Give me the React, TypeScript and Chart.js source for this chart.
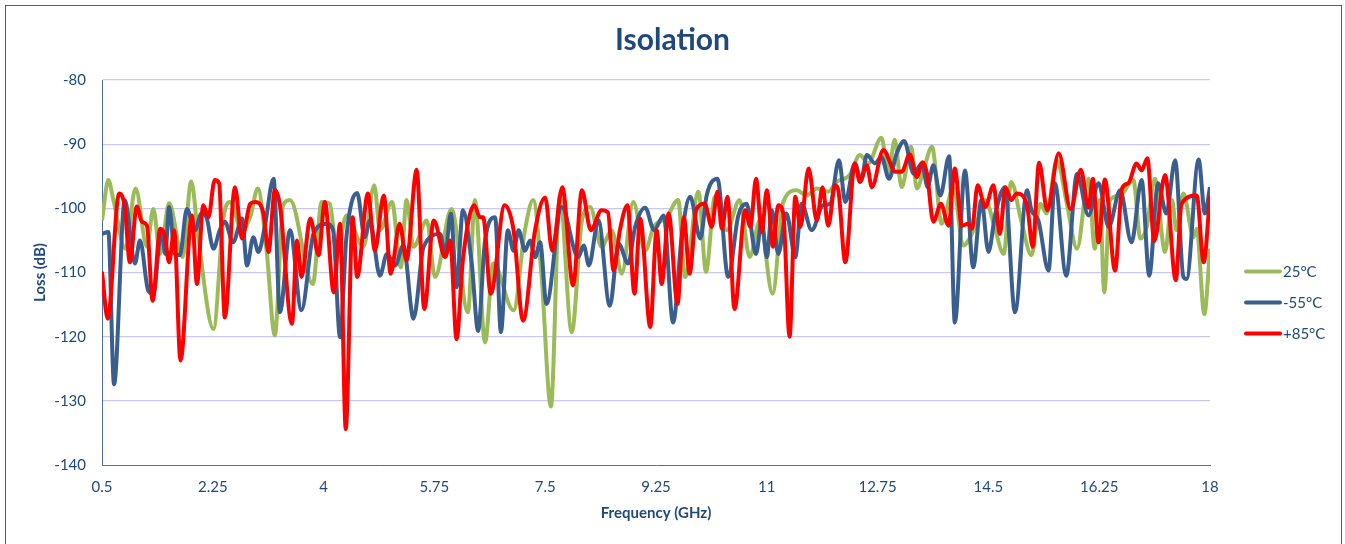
import React, { useEffect, useRef } from "react";
import { Chart, registerables } from "chart.js";

Chart.register(...registerables);

// ---- Data ----
const freq25 = [
  0.5, 0.6, 0.68, 0.87, 1.03, 1.21, 1.31, 1.42, 1.56, 1.77, 1.91, 2.02, 2.26, 2.42, 2.52, 2.71, 2.84, 2.96, 3.1, 3.23,
  3.36, 3.47, 3.83, 3.97, 4.1, 4.21, 4.36, 4.63, 4.8, 4.89, 5.08, 5.22, 5.31, 5.42, 5.63, 5.76, 6.02, 6.28, 6.39, 6.55,
  6.68, 7.0, 7.18, 7.31, 7.44, 7.59, 7.73, 7.92, 8.08, 8.21, 8.39, 8.55, 8.71, 8.89, 9.08, 9.21, 9.42, 9.6, 9.71, 9.92,
  10.04, 10.18, 10.37, 10.57, 10.73, 10.89, 11.09, 11.26, 11.47, 11.63, 11.79, 11.97, 12.1, 12.31, 12.47, 12.6, 12.81,
  12.92, 13.02, 13.13, 13.28, 13.37, 13.49, 13.61, 13.76, 13.95, 14.1, 14.29, 14.45, 14.61, 14.74, 14.86, 15.02, 15.18,
  15.32, 15.42, 15.58, 15.74, 15.9, 16.08, 16.18, 16.26, 16.33, 16.42, 16.58, 16.79, 16.9, 17.0, 17.13, 17.29, 17.4,
  17.47, 17.58, 17.74, 17.79, 17.91, 18.0,
];
const loss25 = [
  -101.9, -95.6, -98.7, -106.3, -96.9, -106.0, -100.1, -107.1, -99.2, -107.6, -95.8, -104.5, -118.8, -101.4, -99.0,
  -103.4, -101.4, -96.9, -106.6, -119.8, -99.5, -98.7, -111.8, -99.0, -99.3, -107.1, -101.1, -106.0, -96.4, -103.4,
  -99.0, -109.2, -98.7, -106.0, -101.9, -110.7, -100.1, -116.2, -98.7, -120.9, -108.6, -115.9, -103.4, -98.7, -110.2,
  -130.9, -98.2, -119.3, -101.9, -99.8, -106.0, -103.4, -110.2, -99.0, -106.6, -103.0, -101.4, -98.7, -110.7, -97.4,
  -109.9, -98.2, -103.4, -98.7, -107.6, -101.9, -113.3, -99.0, -97.2, -98.0, -96.9, -97.4, -95.9, -94.8, -91.7, -93.0,
  -89.0, -94.6, -89.3, -96.7, -90.4, -96.9, -93.5, -90.4, -102.4, -96.7, -105.8, -102.9, -98.7, -103.4, -107.1, -95.9,
  -102.0, -107.3, -99.3, -100.8, -92.5, -99.3, -106.3, -95.4, -106.3, -98.7, -113.1, -98.7, -98.0, -95.6, -104.7,
  -102.9, -95.4, -106.8, -98.7, -103.4, -97.7, -104.5, -103.2, -116.5, -106.3,
];

const freqM55 = [
  0.5, 0.6, 0.69, 0.86, 1.02, 1.1, 1.23, 1.31, 1.44, 1.5, 1.56, 1.65, 1.73, 1.84, 1.97, 2.07, 2.15, 2.26, 2.36, 2.44,
  2.57, 2.71, 2.79, 2.89, 2.97, 3.07, 3.21, 3.31, 3.47, 3.65, 3.84, 4.05, 4.15, 4.26, 4.36, 4.53, 4.65, 4.73, 4.89, 5.0,
  5.13, 5.26, 5.42, 5.58, 5.84, 5.92, 6.01, 6.1, 6.2, 6.34, 6.44, 6.55, 6.71, 6.8, 6.91, 7.0, 7.08, 7.18, 7.26, 7.34,
  7.42, 7.52, 7.76, 8.02, 8.11, 8.19, 8.34, 8.52, 8.66, 8.81, 8.92, 9.08, 9.22, 9.37, 9.52, 9.66, 9.79, 9.95, 10.05,
  10.22, 10.39, 10.55, 10.68, 10.83, 10.92, 11.0, 11.08, 11.18, 11.31, 11.45, 11.55, 11.71, 11.89, 12.0, 12.14, 12.24,
  12.39, 12.49, 12.58, 12.71, 12.81, 12.93, 13.05, 13.17, 13.32, 13.45, 13.54, 13.63, 13.74, 13.88, 13.97, 14.13, 14.26,
  14.39, 14.5, 14.61, 14.76, 14.92, 15.11, 15.18, 15.29, 15.45, 15.55, 15.73, 15.9, 16.08, 16.24, 16.4, 16.58, 16.76,
  16.92, 17.04, 17.18, 17.31, 17.45, 17.58, 17.63, 17.82, 17.92, 18.0,
];
const lossM55 = [
  -104.0, -103.7, -127.4, -98.7, -108.6, -105.0, -112.8, -113.3, -103.4, -107.1, -99.8, -107.1, -107.3, -100.1, -103.4,
  -100.8, -101.4, -106.3, -103.4, -102.1, -105.3, -101.6, -108.9, -104.5, -106.8, -102.9, -95.4, -116.2, -103.4, -115.9,
  -104.0, -102.4, -103.4, -120.1, -104.5, -97.6, -104.5, -101.9, -110.5, -107.1, -108.9, -105.8, -117.2, -106.0, -104.0,
  -107.1, -100.8, -112.3, -100.3, -108.6, -119.1, -105.0, -101.4, -119.3, -103.4, -106.6, -103.4, -106.6, -105.0,
  -107.6, -105.3, -114.9, -99.8, -107.6, -105.8, -108.9, -101.9, -115.2, -105.5, -108.6, -102.9, -99.9, -103.4, -101.1,
  -117.8, -104.0, -98.2, -104.7, -98.0, -95.4, -110.7, -101.1, -99.3, -107.1, -101.9, -107.6, -100.3, -107.1, -100.8,
  -107.6, -99.3, -103.4, -99.5, -99.3, -92.5, -99.0, -93.0, -95.6, -91.7, -93.0, -92.0, -95.4, -91.5, -89.5, -94.6,
  -93.0, -96.7, -93.3, -98.0, -91.9, -117.8, -94.1, -109.2, -98.7, -106.8, -100.8, -96.7, -116.2, -97.2, -100.3, -101.9,
  -109.7, -96.1, -110.5, -94.6, -101.1, -96.1, -102.9, -97.2, -105.3, -95.6, -110.5, -96.1, -100.8, -92.5, -110.7,
  -111.0, -92.4, -100.8, -96.7,
];

const freqP85 = [
  0.5, 0.59, 0.77, 0.86, 0.94, 1.05, 1.13, 1.21, 1.3, 1.42, 1.49, 1.56, 1.64, 1.74, 1.92, 2.0, 2.1, 2.18, 2.28, 2.35,
  2.44, 2.6, 2.71, 2.84, 2.92, 3.05, 3.13, 3.23, 3.31, 3.5, 3.58, 3.65, 3.79, 3.92, 4.02, 4.16, 4.26, 4.35, 4.46, 4.53,
  4.7, 4.81, 4.95, 5.06, 5.2, 5.31, 5.47, 5.59, 5.74, 5.92, 6.0, 6.1, 6.2, 6.38, 6.47, 6.52, 6.64, 6.86, 7.0, 7.15,
  7.34, 7.5, 7.61, 7.77, 7.94, 8.08, 8.22, 8.39, 8.49, 8.58, 8.68, 8.8, 8.91, 9.0, 9.16, 9.26, 9.34, 9.45, 9.59, 9.69,
  9.78, 9.89, 10.02, 10.13, 10.22, 10.29, 10.38, 10.49, 10.66, 10.74, 10.83, 10.92, 11.0, 11.1, 11.18, 11.26, 11.36,
  11.45, 11.53, 11.66, 11.79, 11.88, 11.97, 12.08, 12.13, 12.24, 12.39, 12.47, 12.58, 12.66, 12.84, 13.03, 13.13, 13.26,
  13.37, 13.46, 13.53, 13.63, 13.75, 13.87, 13.97, 14.08, 14.18, 14.24, 14.33, 14.45, 14.58, 14.68, 14.77, 14.86,
  14.95, 15.11, 15.2, 15.3, 15.43, 15.61, 15.8, 15.96, 16.08, 16.15, 16.24, 16.34, 16.5, 16.61, 16.71, 16.84, 16.92,
  17.01, 17.12, 17.29, 17.46, 17.55, 17.79, 17.9, 18.0,
];
const lossP85 = [
  -109.9, -117.2, -97.7, -99.8, -108.4, -99.7, -102.1, -102.7, -114.4, -103.2, -104.2, -108.4, -103.4, -123.7, -101.1,
  -111.8, -99.5, -101.4, -95.6, -96.1, -117.0, -96.7, -104.7, -99.3, -99.0, -100.8, -106.8, -97.2, -99.5, -118.0,
  -105.0, -110.7, -101.6, -107.3, -99.0, -113.1, -102.4, -134.4, -101.4, -110.7, -97.7, -106.6, -98.0, -110.2, -102.4,
  -108.1, -94.0, -115.7, -101.9, -107.6, -105.0, -120.4, -108.0, -99.5, -101.4, -101.4, -113.3, -99.5, -103.4, -117.5,
  -103.4, -98.3, -106.6, -96.7, -112.0, -97.2, -103.4, -100.3, -100.6, -109.7, -103.4, -99.5, -113.3, -101.6, -118.5,
  -103.4, -111.8, -100.8, -114.9, -101.4, -110.2, -100.1, -99.3, -102.9, -97.4, -103.2, -98.2, -115.7, -100.3, -102.9,
  -95.4, -103.7, -97.2, -106.0, -99.5, -100.8, -120.0, -98.2, -102.9, -93.8, -101.9, -96.7, -102.7, -96.4, -97.2,
  -108.4, -93.0, -95.9, -93.3, -96.7, -90.9, -94.3, -94.3, -91.6, -95.1, -92.8, -94.6, -102.1, -99.3, -102.7, -93.8,
  -102.7, -102.4, -103.2, -96.4, -99.8, -96.4, -104.0, -96.7, -98.7, -97.7, -99.5, -106.0, -92.9, -100.3, -91.4,
  -100.1, -94.0, -99.9, -95.4, -105.3, -95.5, -109.7, -96.9, -96.1, -93.0, -94.1, -92.2, -105.1, -94.8, -111.2, -99.3,
  -98.0, -108.4, -98.0,
];

const seriesNames = ["25°C", "-55°C", "+85°C"];
const seriesColors = ["#9bbb59", "#3a5f8f", "#ff0000"];
const xTickValues = [0.5, 2.25, 4, 5.75, 7.5, 9.25, 11, 12.75, 14.5, 16.25, 18];
const yMin = -140;
const yMax = -80;
const yStep = 10;

const FONT = "Lato, 'Open Sans', 'Noto Sans', sans-serif";
const TEXT = "#1f497d";
const AXIS = "#4f6f9f";
const GRID = "#c8c8f2";

const toPoints = (xs: number[], ys: number[]) => xs.map((x, i) => ({ x, y: ys[i] }));

const sideLegend = {
  id: "sideLegend",
  afterDraw(chart: any) {
    const { ctx, chartArea } = chart;
    const cy = (chartArea.top + chartArea.bottom) / 2 + 30;
    ctx.save();
    ctx.font = `15px ${FONT}`;
    ctx.textBaseline = "middle";
    ctx.textAlign = "left";
    chart.data.datasets.forEach((ds: any, i: number) => {
      const y = cy + (i - 1) * 31;
      const x0 = chartArea.right + 35;
      ctx.strokeStyle = ds.borderColor;
      ctx.lineWidth = 4;
      ctx.lineCap = "round";
      ctx.beginPath();
      ctx.moveTo(x0 + 1, y);
      ctx.lineTo(x0 + 35, y);
      ctx.stroke();
      ctx.fillStyle = TEXT;
      ctx.fillText(ds.label, x0 + 38, y + 1);
    });
    ctx.restore();
  },
};

export default function App() {
  const ref = useRef<HTMLCanvasElement | null>(null);

  useEffect(() => {
    if (!ref.current) return;
    const chart = new Chart(ref.current, {
      type: "line",
      data: {
        datasets: [
          { label: seriesNames[0], data: toPoints(freq25, loss25), borderColor: seriesColors[0], order: 3 },
          { label: seriesNames[1], data: toPoints(freqM55, lossM55), borderColor: seriesColors[1], order: 2 },
          { label: seriesNames[2], data: toPoints(freqP85, lossP85), borderColor: seriesColors[2], order: 1 },
        ],
      },
      options: {
        responsive: false,
        animation: false,
        layout: { padding: 0 },
        elements: {
          point: { radius: 0 },
          line: { borderWidth: 4, cubicInterpolationMode: "monotone", fill: false },
        },
        plugins: {
          legend: { display: false },
          tooltip: { enabled: false },
          title: {
            display: true,
            text: "Isolation",
            color: TEXT,
            font: { family: FONT, size: 30, weight: "bold" },
            padding: { top: 22, bottom: 22 },
          },
        },
        scales: {
          x: {
            type: "linear",
            min: 0.5,
            max: 18,
            afterBuildTicks: (s: any) => {
              s.ticks = xTickValues.map((v) => ({ value: v }));
            },
            afterFit: (s: any) => {
              s.height = 79;
            },
            ticks: {
              autoSkip: false,
              maxRotation: 0,
              color: TEXT,
              font: { family: FONT, size: 15 },
              padding: 13,
              callback: (v: any) => String(v),
            },
            grid: { display: false, drawTicks: false },
            border: { display: true, color: AXIS, width: 1 },
            title: {
              display: true,
              text: "Frequency (GHz)",
              color: TEXT,
              font: { family: FONT, size: 15, weight: "bold" },
              padding: { top: 0, bottom: 22 },
            },
          },
          y: {
            type: "linear",
            position: "left",
            min: yMin,
            max: yMax,
            afterFit: (s: any) => {
              s.width = 102;
            },
            ticks: {
              stepSize: yStep,
              color: TEXT,
              font: { family: FONT, size: 15 },
              padding: 16,
            },
            grid: {
              drawTicks: false,
              lineWidth: 1.2,
              color: (c: any) => (c.tick && c.tick.value === yMin ? "rgba(0,0,0,0)" : GRID),
            },
            border: { display: true, color: AXIS, width: 1 },
            title: {
              display: true,
              text: "Loss (dB)",
              color: TEXT,
              font: { family: FONT, size: 15, weight: "bold" },
              padding: { top: 31, bottom: 0 },
            },
          },
          legendSpace: {
            type: "linear",
            position: "right",
            min: yMin,
            max: yMax,
            afterFit: (s: any) => {
              s.width = 135;
            },
            ticks: { display: false },
            grid: { display: false, drawTicks: false },
            border: { display: false },
          },
        },
      },
      plugins: [sideLegend],
    } as any);
    return () => chart.destroy();
  }, []);

  return (
    <div
      style={{
        position: "absolute",
        left: 0,
        top: 0,
        width: 1345,
        height: 544,
        overflow: "hidden",
        background: "#ffffff",
      }}
    >
      <div
        style={{
          position: "absolute",
          left: 5,
          top: 5,
          width: 1337,
          height: 620,
          border: "1px solid #3f5f8f",
          boxSizing: "border-box",
        }}
      />
      <canvas
        ref={ref}
        width={1345}
        height={544}
        style={{ position: "absolute", left: 0, top: 0, width: 1345, height: 544 }}
      />
    </div>
  );
}
